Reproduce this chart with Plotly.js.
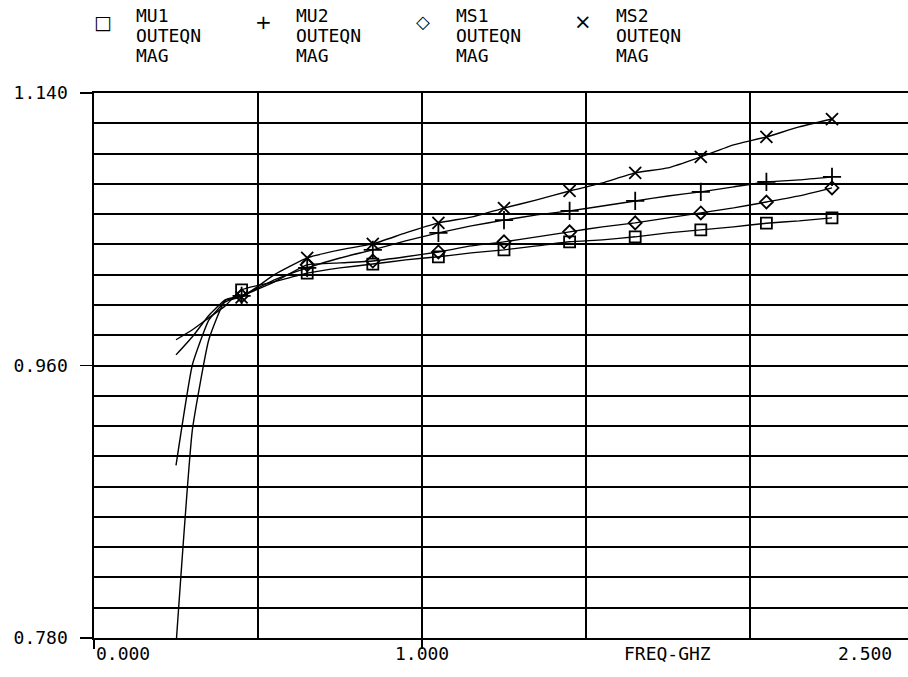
<!DOCTYPE html>
<html>
<head>
<meta charset="utf-8">
<script src="https://cdn.plot.ly/plotly-3.0.1.min.js"></script>
<style>
  html, body { margin: 0; padding: 0; background: #fff; }
  #chart { width: 908px; height: 677px; }
</style>
</head>
<body>
<div id="chart"></div>
<script>
// Swept frequencies (GHz) and the points that carry a marker
const FREQ = [0.25, 0.30, 0.35, 0.40, 0.45, 0.55, 0.65, 0.75, 0.85, 0.95, 1.05,
              1.15, 1.25, 1.35, 1.45, 1.55, 1.65, 1.75, 1.85, 1.95, 2.05, 2.15, 2.25];
const MARK_FREQ = [0.45, 0.65, 0.85, 1.05, 1.25, 1.45, 1.65, 1.85, 2.05, 2.25];

// OUTEQN magnitude for each measurement
const MU1 = [0.977, 0.9836, 0.9915, 0.9994, 1.010, 1.0153, 1.021, 1.0245, 1.027, 1.0298, 1.0318,
             1.0344, 1.0364, 1.039, 1.0417, 1.043, 1.045, 1.0476, 1.0496, 1.0516, 1.054, 1.0555, 1.0575];
const MU2 = [0.894, 0.9605, 0.990, 1.002, 1.006, 1.0166, 1.0245, 1.031, 1.0364, 1.0423, 1.0476,
             1.0522, 1.056, 1.0595, 1.0621, 1.0654, 1.0687, 1.072, 1.0747, 1.078, 1.0813, 1.0826, 1.0846];
const MS1 = [0.967, 0.979, 0.993, 1.0034, 1.006, 1.0153, 1.0265, 1.0278, 1.029, 1.0318, 1.035,
             1.039, 1.0417, 1.045, 1.0483, 1.0516, 1.0542, 1.0575, 1.0608, 1.0641, 1.068, 1.072, 1.0773];
const MS2 = [0.775, 0.9176, 0.977, 1.003, 1.005, 1.020, 1.0311, 1.0364, 1.0403, 1.0476, 1.0542,
             1.058, 1.064, 1.0694, 1.0753, 1.0806, 1.0872, 1.0905, 1.0978, 1.1057, 1.111, 1.1176, 1.1228];

const SERIES_NAMES = ['MU1', 'MU2', 'MS1', 'MS2'];
const LEGEND_SUBLINES = ['OUTEQN', 'MAG'];
const LEGEND_GLYPHS = ['\u25A1', '+', '\u25C7', '\u00D7'];

const Y_TICKS = [0.78, 0.96, 1.14];
const Y_TICK_TEXT = ['0.780', '0.960', '1.140'];
const X_TICKS = [0, 1.0];
const X_LABELS = ['0.000', '1.000', 'FREQ-GHZ', '2.500'];

const FONT = 'DejaVu Sans Mono, monospace';
const SERIES = [MU1, MU2, MS1, MS2];
const SYMBOLS = ['square-open', 'cross-thin-open', 'diamond-open', 'x-thin-open'];
const SYM_SIZE = [11, 13, 10, 12];
const GLYPH_SIZE = [19, 20, 18, 21];

const traces = [];
SERIES.forEach((vals, i) => {
  traces.push({
    x: FREQ, y: vals, mode: 'lines', name: SERIES_NAMES[i], showlegend: false,
    line: { color: '#000', width: 1.4, shape: 'spline', smoothing: 0.4 },
    hoverinfo: 'skip'
  });
  const mx = [], my = [];
  FREQ.forEach((f, k) => {
    if (MARK_FREQ.some(m => Math.abs(m - f) < 1e-9)) { mx.push(f); my.push(vals[k]); }
  });
  traces.push({
    x: mx, y: my, mode: 'markers', name: SERIES_NAMES[i], showlegend: false,
    marker: { symbol: SYMBOLS[i], size: SYM_SIZE[i], color: '#000', line: { color: '#000', width: 1.8 } }
  });
});

// page geometry of the plotting frame
const W = 908, H = 677, L = 94, T = 93, B = 39;
const plotW = W - L, plotH = H - T - B;
const px2paperX = px => (px - L) / plotW;
const px2paperY = py => (H - B - py) / plotH;

const annotations = [];
// legend: symbol + three stacked text lines per series
SERIES_NAMES.forEach((name, i) => {
  const symX = 103 + 160 * i;
  const txtX = symX + 31;
  annotations.push({
    xref: 'paper', yref: 'paper', x: px2paperX(symX), y: px2paperY(22),
    xanchor: 'center', yanchor: 'middle', showarrow: false,
    text: LEGEND_GLYPHS[i], font: { family: 'DejaVu Sans, sans-serif', size: GLYPH_SIZE[i], color: '#000' }
  });
  [name].concat(LEGEND_SUBLINES).forEach((line, j) => {
    annotations.push({
      xref: 'paper', yref: 'paper', x: px2paperX(txtX), y: px2paperY(15 + 20 * j),
      xanchor: 'left', yanchor: 'middle', showarrow: false,
      text: line, font: { family: FONT, size: 18, color: '#000' }
    });
  });
});
// frequency axis labels
const xLabelAnchor = [[0, 'left'], [1.0, 'center'], [1.747, 'center'], [2.35, 'center']];
X_LABELS.forEach((t, i) => {
  annotations.push({
    xref: 'x', yref: 'paper', x: xLabelAnchor[i][0], y: px2paperY(653),
    xanchor: xLabelAnchor[i][1], yanchor: 'middle', showarrow: false,
    text: t, font: { family: FONT, size: 18, color: '#000' }
  });
});

const layout = {
  width: W, height: H,
  margin: { l: L, r: 0, t: T, b: B, autoexpand: false },
  paper_bgcolor: '#fff', plot_bgcolor: '#fff',
  showlegend: false,
  font: { family: FONT, size: 18, color: '#000' },
  xaxis: {
    range: [0, plotW / 328], fixedrange: true,
    tickmode: 'array', tickvals: X_TICKS, ticktext: X_TICKS.map(() => ''),
    ticks: 'outside', ticklen: 9, tickwidth: 1.4, tickcolor: '#000',
    showgrid: true, gridcolor: '#000', gridwidth: 1.5,
    minor: { tick0: 0, dtick: 0.5, showgrid: true, gridcolor: '#000', gridwidth: 1.5, ticks: '' },
    showline: true, linecolor: '#000', linewidth: 1.8, mirror: true, zeroline: false
  },
  yaxis: {
    range: [0.78, 1.14], fixedrange: true,
    tickmode: 'array', tickvals: Y_TICKS, ticktext: Y_TICK_TEXT,
    ticks: 'outside', ticklen: 12, tickwidth: 1.5, tickcolor: '#000',
    ticklabelstandoff: 9,
    tickfont: { family: FONT, size: 18, color: '#000' },
    showgrid: true, gridcolor: '#000', gridwidth: 2,
    minor: { tick0: 0.78, dtick: 0.02, showgrid: true, gridcolor: '#000', gridwidth: 2, ticks: '' },
    showline: true, linecolor: '#000', linewidth: 1.6, zeroline: false
  },
  annotations: annotations
};

Plotly.newPlot('chart', traces, layout, { displayModeBar: false, staticPlot: true });
</script>
</body>
</html>
